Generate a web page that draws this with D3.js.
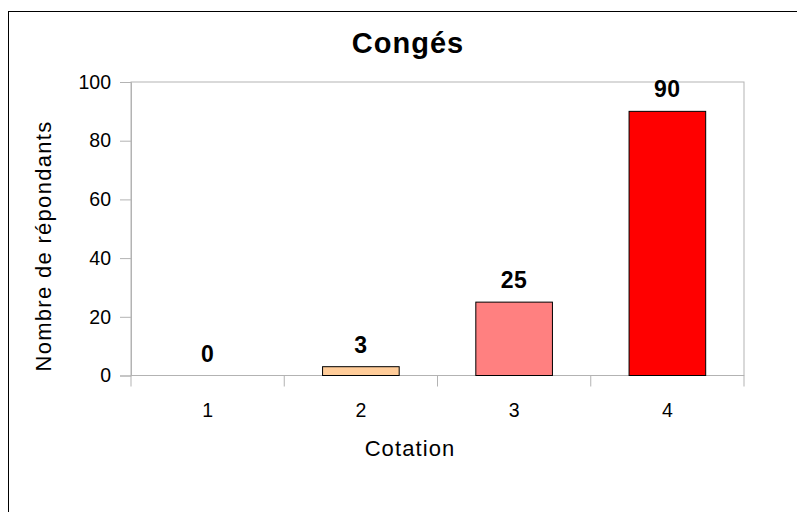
<!DOCTYPE html>
<html>
<head>
<meta charset="utf-8">
<script src="https://cdn.jsdelivr.net/npm/d3@7"></script>
<style>
  body { margin: 0; background: #fff; }
  text { font-family: "Liberation Sans", Arial, sans-serif; fill: #000; }
</style>
</head>
<body>
<svg id="chart"></svg>
<script>
//------ Données ------
var categories = ["1", "2", "3", "4"];
var values = [0, 3, 25, 90];
var barColors = ["#ffcc99", "#ffcc99", "#ff8080", "#ff0000"];
var yTicks = [0, 20, 40, 60, 80, 100];

//taille du cadre
var width = 797,
    height = 512;

var svg = d3.select("#chart")
    .attr("width", width)
    .attr("height", height);

// cadre extérieur
svg.append("rect")
    .attr("x", 8.5).attr("y", 11.5)
    .attr("width", 820).attr("height", 540)
    .attr("fill", "none")
    .attr("stroke", "#000");

// zone de tracé
var plot = { left: 131, top: 82, right: 744, bottom: 375.5 };

var x = d3.scaleBand()
    .domain(categories)
    .range([plot.left, plot.right])
    .paddingInner(0)
    .paddingOuter(0);

var y = d3.scaleLinear()
    .domain([0, 100])
    .range([plot.bottom, plot.top]);

var grey = "#b3b3b3";

// bordure de la zone
svg.append("rect")
    .attr("x", plot.left).attr("y", plot.top)
    .attr("width", plot.right - plot.left)
    .attr("height", plot.bottom - plot.top)
    .attr("fill", "none")
    .attr("stroke", grey);

// axe Y
var yAxis = svg.append("g")
    .attr("transform", "translate(" + plot.left + ",0)")
    .call(d3.axisLeft(y).tickValues(yTicks).tickSize(11).tickPadding(9));
yAxis.select(".domain").attr("stroke", grey);
yAxis.selectAll(".tick line").attr("stroke", grey);
yAxis.selectAll(".tick text")
    .style("font-size", "19.5px")
    .attr("fill", "#000");

// axe X (graduations aux limites des catégories)
var xAxis = svg.append("g")
    .attr("transform", "translate(0," + plot.bottom + ")");
xAxis.append("line")
    .attr("x1", plot.left).attr("x2", plot.right)
    .attr("stroke", grey);
var bounds = categories.map(c => x(c)).concat([plot.right]);
xAxis.selectAll("line.tick")
    .data(bounds)
    .enter().append("line")
    .attr("class", "tick")
    .attr("x1", d => d).attr("x2", d => d)
    .attr("y1", 0).attr("y2", 11)
    .attr("stroke", grey);
xAxis.selectAll("text.cat")
    .data(categories)
    .enter().append("text")
    .attr("class", "cat")
    .attr("x", d => x(d) + x.bandwidth() / 2)
    .attr("y", 41)
    .attr("text-anchor", "middle")
    .style("font-size", "19.5px")
    .text(d => d);

// barres
var barW = x.bandwidth() / 2;
svg.selectAll("rect.bar")
    .data(values)
    .enter().append("rect")
    .attr("class", "bar")
    .attr("x", (d, i) => x(categories[i]) + (x.bandwidth() - barW) / 2)
    .attr("y", d => y(d))
    .attr("width", barW)
    .attr("height", d => plot.bottom - y(d))
    .attr("fill", (d, i) => barColors[i])
    .attr("stroke", d => d > 0 ? "#000" : "none");

// étiquettes de valeur
svg.selectAll("text.val")
    .data(values)
    .enter().append("text")
    .attr("class", "val")
    .attr("x", (d, i) => x(categories[i]) + x.bandwidth() / 2)
    .attr("y", d => y(d) - 14)
    .attr("text-anchor", "middle")
    .style("font-size", "23px")
    .style("font-weight", "bold")
    .style("letter-spacing", "0.5px")
    .text(d => d);

// titre
svg.append("text")
    .attr("x", 408).attr("y", 53)
    .attr("text-anchor", "middle")
    .style("font-size", "29px")
    .style("font-weight", "bold")
    .style("letter-spacing", "1px")
    .text("Congés");

// titres des axes
svg.append("text")
    .attr("x", 410).attr("y", 456)
    .attr("text-anchor", "middle")
    .style("font-size", "22px")
    .style("letter-spacing", "1.1px")
    .text("Cotation");

svg.append("text")
    .attr("transform", "translate(51,246) rotate(-90)")
    .attr("text-anchor", "middle")
    .style("font-size", "22px")
    .style("letter-spacing", "1.3px")
    .text("Nombre de répondants");
</script>
</body>
</html>
